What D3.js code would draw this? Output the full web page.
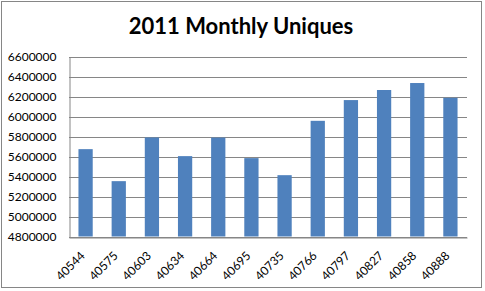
<!DOCTYPE html>
<html>
<head>
<meta charset="utf-8">
<script src="https://cdn.jsdelivr.net/npm/d3@7"></script>
<style>
  body { margin: 0; background: #fff; }
  svg { display: block; }
</style>
</head>
<body>
<svg width="485" height="291"></svg>
<script>
  // x categories as they appear in the sheet (date serials)
  var categories = ['40544', '40575', '40603', '40634', '40664', '40695',
                    '40735', '40766', '40797', '40827', '40858', '40888'];
  var uniques = [5676000, 5355000, 5793000, 5606000, 5792000, 5586000,
                 5415000, 5960000, 6168000, 6269000, 6339000, 6191000];
  var yTicks = [4800000, 5000000, 5200000, 5400000, 5600000, 5800000,
                6000000, 6200000, 6400000, 6600000];
  var title = '2011 Monthly Uniques';

  var svg = d3.select('svg');
  var plotLeft = 69, plotRight = 467, plotTop = 57, plotBottom = 236.5;

  // chart frame
  svg.append('rect')
    .attr('x', 1.5).attr('y', 1.5)
    .attr('width', 480).attr('height', 286)
    .style('fill', '#fff')
    .style('stroke', '#868686')
    .style('stroke-width', 1);

  svg.append('text')
    .attr('x', 241).attr('y', 34)
    .style('text-anchor', 'middle')
    .style('font-family', 'Lato, "Open Sans", sans-serif')
    .style('font-weight', 'bold')
    .style('font-size', '22px')
    .text(title);

  var x = d3.scaleBand().domain(categories).range([plotLeft, plotRight]).paddingInner(0.57).paddingOuter(0.285);
  var y = d3.scaleLinear().domain([4800000, 6600000]).range([plotBottom, plotTop]);

  // gridlines
  svg.append('g')
    .selectAll('line')
    .data(yTicks)
    .enter()
    .append('line')
    .attr('x1', plotLeft).attr('x2', plotRight)
    .attr('y1', function(d) { return Math.round(y(d)) + 0.5; })
    .attr('y2', function(d) { return Math.round(y(d)) + 0.5; })
    .style('stroke', '#868686')
    .style('stroke-width', 1);

  svg.append('g')
    .selectAll('rect')
    .data(uniques)
    .enter()
    .append('rect')
    .attr('x', function(d, i) { return x(categories[i]); })
    .attr('width', x.bandwidth())
    .attr('y', function(d) { return y(d); })
    .attr('height', function(d) { return plotBottom - y(d); })
    .style('fill', '#4F81BD');

  // y axis
  var yAxis = svg.append('g')
    .attr('transform', 'translate(' + (plotLeft + 0.5) + ',0)')
    .call(d3.axisLeft(y).tickValues(yTicks).tickSize(0).tickPadding(13).tickFormat(d3.format('d')));
  yAxis.select('.domain').style('stroke', '#868686');
  yAxis.selectAll('text')
    .style('font-family', 'Lato, "Open Sans", sans-serif')
    .style('font-size', '12px')
    .style('fill', '#000');

  // x axis
  var xAxis = svg.append('g')
    .attr('transform', 'translate(0,' + (Math.round(plotBottom) + 0.5) + ')')
    .call(d3.axisBottom(x).tickSize(0).tickPadding(0));
  xAxis.select('.domain').style('stroke', '#868686');
  xAxis.selectAll('text')
    .attr('y', 0).attr('dy', 0)
    .attr('transform', 'translate(0,19) rotate(-45)')
    .style('text-anchor', 'end')
    .style('font-family', 'Lato, "Open Sans", sans-serif')
    .style('font-size', '12px')
    .style('fill', '#000');
</script>
</body>
</html>
